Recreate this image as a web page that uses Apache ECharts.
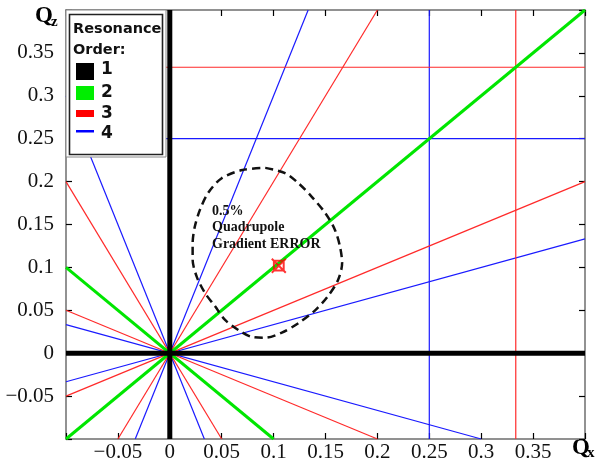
<!DOCTYPE html>
<html>
<head>
<meta charset="utf-8">
<script src="https://cdn.jsdelivr.net/npm/echarts@6/dist/echarts.min.js"></script>
<style>html,body{margin:0;padding:0;background:#fff}#c{width:599px;height:471px}</style>
</head>
<body>
<div id="c"></div>
<script>
// Axis range / ticks
var axisMin = -0.1, axisMax = 0.4, tickStep = 0.05;

// Resonance lines: endpoints [[x1,y1],[x2,y2]] within the plotted window
var order1Lines = [
  [[0, -0.1], [0, 0.4]],
  [[-0.1, 0], [0.4, 0]]
];
var order2Lines = [
  [[-0.1, -0.1], [0.4, 0.4]],
  [[-0.1, 0.1], [0.1, -0.1]]
];
var order3Lines = [
  [[-0.05, -0.1], [0.2, 0.4]],
  [[-0.1, 0.2], [0.05, -0.1]],
  [[-0.1, -0.05], [0.4, 0.2]],
  [[-0.1, 0.05], [0.2, -0.1]],
  [[0.3333, -0.1], [0.3333, 0.4]],
  [[-0.1, 0.3333], [0.4, 0.3333]]
];
var order4Lines = [
  [[-0.0333, -0.1], [0.1333, 0.4]],
  [[-0.1, 0.3], [0.0333, -0.1]],
  [[-0.1, -0.0333], [0.4, 0.1333]],
  [[-0.1, 0.0333], [0.3, -0.1]],
  [[0.25, -0.1], [0.25, 0.4]],
  [[-0.1, 0.25], [0.4, 0.25]]
];
// Dashed error contour (0.5% quadrupole gradient error)
var contourPts = [
  [0.092, 0.216], [0.111, 0.210], [0.124, 0.198], [0.137, 0.182], [0.150, 0.163],
  [0.159, 0.144], [0.164, 0.124], [0.166, 0.105], [0.162, 0.085], [0.152, 0.066],
  [0.140, 0.050], [0.124, 0.035], [0.108, 0.024], [0.092, 0.018], [0.079, 0.019],
  [0.066, 0.027], [0.053, 0.039], [0.044, 0.054], [0.034, 0.070], [0.026, 0.089],
  [0.022, 0.109], [0.022, 0.128], [0.024, 0.147], [0.029, 0.167], [0.037, 0.187],
  [0.050, 0.204], [0.070, 0.2135], [0.092, 0.216]
];
// Working point
var workingPoint = [[0.105, 0.102]];

var legendLabels = ['1', '2', '3', '4'];
var annotationLines = ['0.5%', 'Quadrupole', 'Gradient ERROR'];

function fmt(v) {
  if (Math.abs(v - axisMin) < 1e-9 || Math.abs(v - axisMax) < 1e-9) return '';
  var s = String(+v.toFixed(2));
  return s.replace('-', '\u2212');
}

var series = [];
function addLines(list, color, width, z) {
  list.forEach(function (seg) {
    series.push({
      type: 'line', data: seg, showSymbol: false, symbol: 'none', silent: true,
      lineStyle: { color: color, width: width }, z: z, animation: false,
      xAxisIndex: 0, yAxisIndex: 0
    });
  });
}
addLines(order4Lines, '#1a1aff', 1.2, 2);
addLines(order3Lines, '#ff2a2a', 1.2, 3);
addLines(order2Lines, '#00e600', 3, 4);
addLines(order1Lines, '#000000', 5, 5);
series.push({
  type: 'line', data: contourPts, showSymbol: false, symbol: 'none', smooth: 0.3,
  lineStyle: { color: '#111', width: 2.5, type: [8, 5] }, z: 6, animation: false
});
series.push({
  type: 'scatter', data: workingPoint, symbol: 'path://M0,0L10,10M10,0L0,10M1.5,1.5L8.5,1.5L8.5,8.5L1.5,8.5Z',
  symbolSize: 14, itemStyle: { color: 'rgba(0,0,0,0)', borderColor: '#ff0000', borderWidth: 2 }, z: 7, animation: false
});

var serifFont = '"Liberation Serif","DejaVu Serif",serif';
var axisCommon = {
  type: 'value', min: axisMin, max: axisMax, interval: tickStep,
  splitLine: { show: false },
  axisLine: { show: true, onZero: false, lineStyle: { color: '#6e6e6e', width: 1.5 } },
  axisTick: { show: true, inside: true, length: 6, lineStyle: { color: '#000', width: 1.2 } }
};
function mk(extra) { return Object.assign({}, JSON.parse(JSON.stringify(axisCommon)), extra); }

var graphics = [
  { type: 'rect', shape: { x: 66, y: 10, width: 100, height: 147 }, style: { fill: '#fff', stroke: '#8a8a8a', lineWidth: 1 }, z: 100 },
  { type: 'rect', shape: { x: 69.5, y: 14.5, width: 93, height: 140 }, style: { fill: '#fff', stroke: '#222', lineWidth: 1.6 }, z: 101 },
  { type: 'text', left: 73, top: 22, style: { text: 'Resonance', font: 'bold 14.5px "DejaVu Sans", sans-serif', fill: '#111' }, z: 102 },
  { type: 'text', left: 73, top: 43, style: { text: 'Order:', font: 'bold 14.5px "DejaVu Sans", sans-serif', fill: '#111' }, z: 102 },
  { type: 'rect', shape: { x: 76, y: 63, width: 18, height: 17 }, style: { fill: '#000' }, z: 102 },
  { type: 'rect', shape: { x: 76, y: 86, width: 18, height: 14 }, style: { fill: '#00ee00' }, z: 102 },
  { type: 'rect', shape: { x: 76, y: 110, width: 18, height: 7 }, style: { fill: '#ff0000' }, z: 102 },
  { type: 'rect', shape: { x: 76, y: 130, width: 18, height: 2.5 }, style: { fill: '#0000ff' }, z: 102 }
];
var legendYs = [61, 84, 105, 125];
legendLabels.forEach(function (t, i) {
  graphics.push({ type: 'text', left: 101, top: legendYs[i], style: { text: t, font: 'bold 17px "DejaVu Sans", sans-serif', fill: '#111' }, z: 102 });
});
annotationLines.forEach(function (t, i) {
  graphics.push({ type: 'text', left: 212, top: 204 + i * 16.5, style: { text: t, font: 'bold 14px ' + serifFont, fill: '#111' }, z: 20 });
});
graphics.push({ type: 'text', left: 35, top: 5, style: { text: 'Q', font: 'bold 23px ' + serifFont, fill: '#000' } });
graphics.push({ type: 'text', left: 51, top: 15, style: { text: 'z', font: 'bold 15px ' + serifFont, fill: '#000' } });
graphics.push({ type: 'text', left: 572, top: 437, style: { text: 'Q', font: 'bold 23px ' + serifFont, fill: '#000' } });
graphics.push({ type: 'text', left: 587, top: 446, style: { text: 'x', font: 'bold 15px ' + serifFont, fill: '#000' } });

var chart = echarts.init(document.getElementById('c'), null, { renderer: 'canvas' });
chart.setOption({
  animation: false,
  backgroundColor: '#fff',
  grid: { left: 66, right: 14, top: 10, bottom: 32, containLabel: false },
  xAxis: [
    mk({ position: 'bottom', axisLabel: { formatter: fmt, color: '#111', fontFamily: serifFont, fontSize: 21, margin: 3 } }),
    mk({ position: 'top', axisLabel: { show: false } })
  ],
  yAxis: [
    mk({ position: 'left', axisLabel: { formatter: fmt, color: '#111', fontFamily: serifFont, fontSize: 21, margin: 12 } }),
    mk({ position: 'right', axisLabel: { show: false } })
  ],
  series: series,
  graphic: graphics
});
</script>
</body>
</html>
